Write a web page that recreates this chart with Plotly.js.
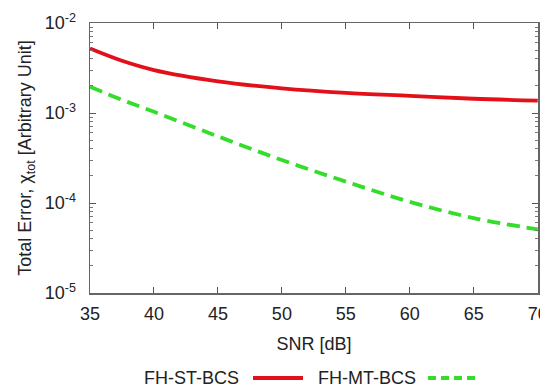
<!DOCTYPE html>
<html>
<head>
<meta charset="utf-8">
<script src="https://cdn.plot.ly/plotly-3.0.1.min.js"></script>
<style>html,body{margin:0;padding:0;background:#fff;}#chart{width:540px;height:390px;}</style>
</head>
<body>
<div id="chart"></div>
<script>
const snr = [35, 37.5, 40, 45, 50, 55, 60, 65, 70];
const fhST = [5.2e-3, 3.8e-3, 3.0e-3, 2.25e-3, 1.88e-3, 1.67e-3, 1.55e-3, 1.44e-3, 1.37e-3];
const fhMT = [1.96e-3, 1.4e-3, 1.03e-3, 5.5e-4, 3.0e-4, 1.73e-4, 1.03e-4, 6.8e-5, 5.1e-5];
const seriesNames = ['FH-ST-BCS', 'FH-MT-BCS'];
const xTicks = [35, 40, 45, 50, 55, 60, 65, 70];
const yTicks = [1e-5, 1e-4, 1e-3, 1e-2];
const yTickText = ['10<sup>-5</sup>', '10<sup>-4</sup>', '10<sup>-3</sup>', '10<sup>-2</sup>'];

const minorVals = [];
for (let e = -5; e < -2; e++) for (let m = 2; m <= 9; m++) minorVals.push(m * Math.pow(10, e));

const FONT = 'Liberation Sans, Arial, sans-serif';
const traces = [
  {x: snr, y: fhST, mode: 'lines', name: seriesNames[0], line: {color: '#e3101a', width: 3.8, shape: 'spline'}},
  {x: snr, y: fhMT, mode: 'lines', name: seriesNames[1], line: {color: '#33dd2a', width: 3.8, dash: '13px,7px', shape: 'spline'}}
];

const L = 90, R = 2, T = 23, B = 97, W = 540, H = 390;
const pw = W - L - R, ph = H - T - B;
const px = v => (v - L) / pw;
const py = v => (H - B - v) / ph;

const layout = {
  width: W, height: H,
  margin: {l: L, r: R, t: T, b: B},
  paper_bgcolor: '#fff', plot_bgcolor: '#fff',
  showlegend: false,
  font: {family: FONT, size: 18, color: '#222'},
  xaxis: {
    range: [35, 70.02], tickmode: 'array', tickvals: xTicks, ticktext: xTicks.map(String),
    ticks: 'inside', ticklen: 6, tickwidth: 1, tickcolor: '#555',
    showline: true, linecolor: '#666', linewidth: 1.5, mirror: 'allticks',
    showgrid: false, zeroline: false, automargin: false, ticklabeloverflow: 'allow',
    tickfont: {size: 18}, ticklabelstandoff: 4,
    title: {text: 'SNR [dB]', font: {size: 18}, standoff: 14}
  },
  yaxis: {
    type: 'log', range: [-5, -2], tickmode: 'array', tickvals: yTicks, ticktext: yTickText,
    ticks: 'inside', ticklen: 6, tickwidth: 1, tickcolor: '#555',
    showline: true, linecolor: '#666', linewidth: 1.5, mirror: 'allticks',
    showgrid: false, zeroline: false, automargin: false,
    tickfont: {size: 18}, ticklabelstandoff: 9,
    minor: {tickmode: 'array', tickvals: minorVals, ticks: 'inside', ticklen: 3, tickcolor: '#777', showgrid: false},
    title: {text: 'Total Error, χ<sub>tot</sub> [Arbitrary Unit]', font: {size: 18}, standoff: 8}
  },
  annotations: [
    {xref: 'paper', yref: 'paper', x: px(241), y: py(378), xanchor: 'right', yanchor: 'middle', text: seriesNames[0], showarrow: false, font: {size: 18}},
    {xref: 'paper', yref: 'paper', x: px(418), y: py(378), xanchor: 'right', yanchor: 'middle', text: seriesNames[1], showarrow: false, font: {size: 18}}
  ],
  shapes: [
    {type: 'line', xref: 'paper', yref: 'paper', x0: px(253), x1: px(303), y0: py(378), y1: py(378), line: {color: '#e3101a', width: 3.8}},
    {type: 'line', xref: 'paper', yref: 'paper', x0: px(428), x1: px(478), y0: py(378), y1: py(378), line: {color: '#33dd2a', width: 3.8, dash: '8px,5px'}}
  ]
};
Plotly.newPlot('chart', traces, layout, {displayModeBar: false, staticPlot: true});
</script>
</body>
</html>
